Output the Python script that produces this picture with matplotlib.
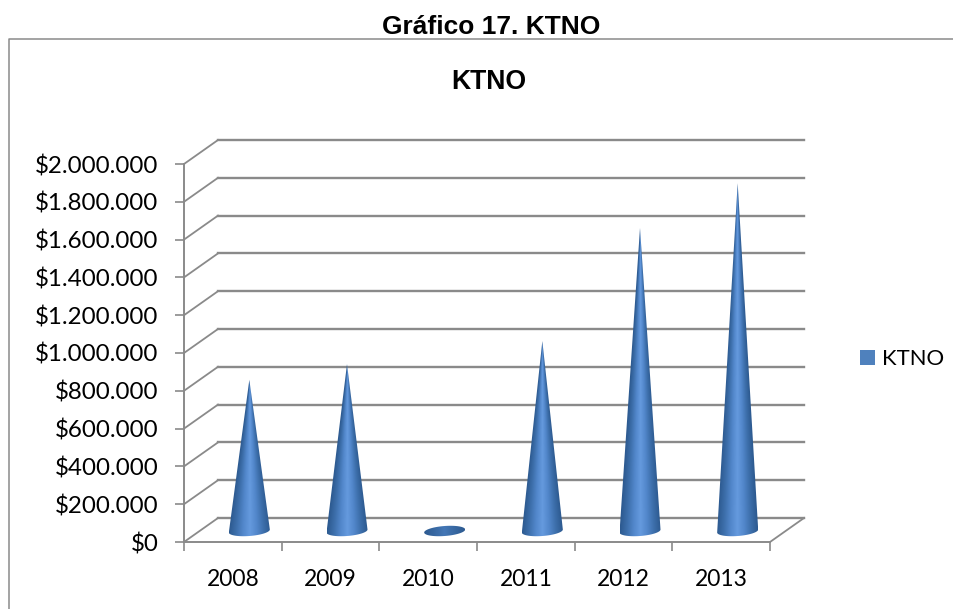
import matplotlib
matplotlib.use('Agg')
import matplotlib.pyplot as plt
import numpy as np
from matplotlib.colors import LinearSegmentedColormap
from matplotlib.lines import Line2D
from matplotlib.patches import Patch, Polygon

years = ['2008', '2009', '2010', '2011', '2012', '2013']
ktno = [800000, 883000, 5000, 1005000, 1603000, 1840000]
y_ticks = list(range(0, 2000001, 200000))

W, H = 954, 609
GRAY = '#8a8a8a'

fig = plt.figure(figsize=(W / 100, H / 100), dpi=100)
# front plane of the fake 3d box, in pixels
left, right, top, bottom = 184, 770, 164, 542
ax = fig.add_axes([left / W, 1 - bottom / H, (right - left) / W, (bottom - top) / H])
ax.set_facecolor('none')

px_x = len(years) / (right - left)
px_y = 2000000 / (bottom - top)

# depth of the box and position of the cones inside it
depth_x, depth_y = 34 * px_x, 24 * px_y
cone_x, cone_y = 16.5 * px_x, 11 * px_y
half_w, half_h, tilt = 20.5 * px_x, 5 * px_y, 1.5 * px_y

for v in y_ticks:
    ax.plot([0, depth_x], [v, v + depth_y], color=GRAY, lw=1.3, clip_on=False, zorder=1)
    ax.plot([depth_x, len(years) + depth_x], [v + depth_y, v + depth_y], color=GRAY, lw=1.7,
            clip_on=False, zorder=1)
ax.plot([len(years), len(years) + depth_x], [0, depth_y], color=GRAY, lw=1.3, clip_on=False, zorder=1)

cmap = LinearSegmentedColormap.from_list('cone', ['#659ade', '#5287cb', '#3d6fab', '#2d5a90'])

for i, val in enumerate(ktno):
    c = i + 0.5 + cone_x
    is_flat = val < half_h
    t = np.linspace(0, 2 * np.pi if is_flat else np.pi, 80)
    arc_x = c + half_w * np.cos(t)
    arc_y = cone_y - half_h * np.sin(t) + tilt * np.cos(t)
    verts = list(zip(arc_x, arc_y))
    if not is_flat:
        verts = [(c, cone_y + val)] + verts
    poly = Polygon(verts, closed=True, facecolor='none', edgecolor='none')
    ax.add_patch(poly)

    y0, y1 = cone_y - 2 * half_h, cone_y + max(val, 2 * half_h)
    xs = np.linspace(c - half_w, c + half_w, 160)
    ys = np.linspace(y0, y1, 400)
    gx, gy = np.meshgrid(xs, ys)
    if is_flat:
        # the flat one shows only the dark side of the shading
        u = 0.55 + 0.45 * np.abs(gx - c) / half_w
    else:
        row_w = np.maximum(half_w * (1 - np.clip(gy - cone_y, 0, None) / val), 1e-4)
        u = np.abs(gx - c) / row_w
    im = ax.imshow(np.clip(u, 0, 1), extent=[xs[0], xs[-1], y0, y1], origin='lower', aspect='auto',
                   cmap=cmap, vmin=0, vmax=1, zorder=3)
    im.set_clip_path(poly)

ax.set_xlim(0, len(years))
ax.set_ylim(0, 2000000)

for s in ['top', 'right']:
    ax.spines[s].set_visible(False)
for s in ['left', 'bottom']:
    ax.spines[s].set_color(GRAY)
    ax.spines[s].set_linewidth(1.4)

ax.set_xticks(range(len(years) + 1))
ax.set_xticklabels([''] * (len(years) + 1))
ax.set_yticks(y_ticks)
ax.set_yticklabels(['$' + f'{v:,}'.replace(',', '.') for v in y_ticks], fontsize=17.4,
                   fontfamily='Lato', color='black')
ax.tick_params(axis='both', length=6.5, width=1.2, color=GRAY, direction='out')
ax.tick_params(axis='y', pad=12)
for i, y in enumerate(years):
    ax.annotate(y, (i + 0.5, 0), xytext=(0, -44), textcoords='offset pixels', ha='center', va='baseline',
                fontsize=16.5, fontfamily='Lato', color='black', annotation_clip=False)

# outer frame of the pasted chart
fig.add_artist(Line2D([9 / W, 9 / W, 1], [0, 1 - 39 / H, 1 - 39 / H], color=GRAY, lw=1.1))

fig.text(491 / W, 1 - 27 / H, 'Gráfico 17. KTNO', ha='center', va='center', fontsize=19,
         fontweight='bold', fontfamily='Liberation Sans')
fig.text(489 / W, 1 - 82 / H, 'KTNO', ha='center', va='center', fontsize=19.2,
         fontweight='bold', fontfamily='Liberation Sans')

fig.legend(handles=[Patch(facecolor='#4f81bd', edgecolor='none', label='KTNO')],
           loc='center left', bbox_to_anchor=(853 / W, 1 - 359 / H), frameon=False,
           prop={'family': 'Lato', 'size': 15.8}, handlelength=0.72, handleheight=0.72,
           handletextpad=0.3, borderpad=0.3, borderaxespad=0)

fig.savefig('out.png', dpi=100)
